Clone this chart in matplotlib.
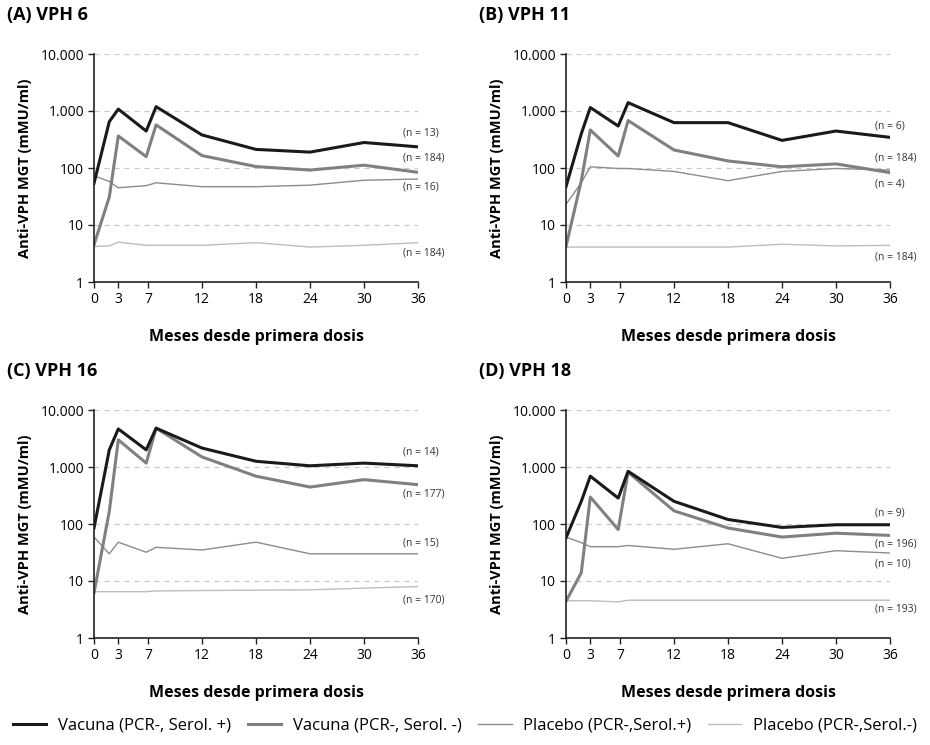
import matplotlib
matplotlib.use("Agg")
import matplotlib.pyplot as plt
from matplotlib.ticker import FixedLocator, NullLocator

plt.rcParams['font.family'] = ['Open Sans', 'DejaVu Sans']

# visit positions as drawn on the chart (months)
visits = [0, 1.7, 2.7, 5.8, 6.9, 12, 18, 24, 30, 36]
tick_pos = [0, 2.7, 6, 12, 18, 24, 30, 36]
tick_lab = ['0', '3', '7', '12', '18', '24', '30', '36']

titles = ['(A) VPH 6', '(B) VPH 11', '(C) VPH 16', '(D) VPH 18']

vac_pos = [
    [54, 650, 1080, 445, 1190, 380, 212, 190, 280, 235],
    [47, 400, 1150, 545, 1400, 625, 625, 305, 445, 345],
    [85, 2000, 4650, 2000, 4800, 2150, 1260, 1050, 1170, 1050],
    [57, 250, 690, 285, 840, 250, 120, 87, 97, 97],
]
vac_neg = [
    [4.5, 31, 365, 158, 570, 165, 106, 92, 112, 84],
    [4.2, 60, 465, 162, 680, 207, 133, 105, 118, 83],
    [6.2, 167, 3000, 1170, 4800, 1500, 690, 445, 600, 490],
    [4.4, 14, 297, 80, 810, 170, 85, 59, 69, 63],
]
pla_pos = [
    [73, 58, 45, 49, 55, 47, 47, 50, 61, 64],
    [23, 55, 105, 98, 98, 87, 60, 87, 98, 92],
    [59, 30, 48, 32, 39, 35, 48, 30, 30, 30],
    [59, 47, 40, 40, 42, 36, 45, 25, 34, 31],
]
pla_neg = [
    [4.2, 4.3, 5.0, 4.4, 4.4, 4.4, 4.9, 4.1, 4.4, 4.9],
    [4.1, 4.1, 4.1, 4.1, 4.1, 4.1, 4.1, 4.6, 4.3, 4.4],
    [6.5, 6.5, 6.5, 6.5, 6.7, 6.8, 6.9, 7.0, 7.5, 8.0],
    [4.5, 4.5, 4.5, 4.3, 4.6, 4.6, 4.6, 4.6, 4.6, 4.6],
]
n_labels = [
    ['(n = 13)', '(n = 184)', '(n = 16)', '(n = 184)'],
    ['(n = 6)', '(n = 184)', '(n = 4)', '(n = 184)'],
    ['(n = 14)', '(n = 177)', '(n = 15)', '(n = 170)'],
    ['(n = 9)', '(n = 196)', '(n = 10)', '(n = 193)'],
]
n_y = [
    [405, 148, 46, 3.2],
    [550, 148, 52, 2.8],
    [1800, 335, 46, 4.7],
    [156, 45, 20, 3.2],
]

legend_names = ['Vacuna (PCR-, Serol. +)', 'Vacuna (PCR-, Serol. -)',
                'Placebo (PCR-,Serol.+)', 'Placebo (PCR-,Serol.-)']

fig = plt.figure(figsize=(9.3, 7.45), dpi=100)

lefts = [94 / 930, 566 / 930, 94 / 930, 566 / 930]
bottoms = [1 - 282 / 745, 1 - 282 / 745, 1 - 638 / 745, 1 - 638 / 745]
w = 324 / 930
h = 228 / 745

handles = []
for i in range(4):
    ax = fig.add_axes([lefts[i], bottoms[i], w, h])
    for y in [10, 100, 1000, 10000]:
        ax.axhline(y, color='#c8c8c8', lw=0.9, ls=(0, (4, 4)), zorder=0)
    l4, = ax.plot(visits, pla_neg[i], color='#bdbdbd', lw=1.0)
    l3, = ax.plot(visits, pla_pos[i], color='#8c8c8c', lw=1.0)
    l2, = ax.plot(visits, vac_neg[i], color='#808080', lw=2.2)
    l1, = ax.plot(visits, vac_pos[i], color='#1a1a1a', lw=2.2)
    handles = [l1, l2, l3, l4]
    ax.set_yscale('log')
    ax.set_ylim(1, 10000)
    ax.set_xlim(0, 36)
    ax.yaxis.set_major_locator(FixedLocator([1, 10, 100, 1000, 10000]))
    ax.yaxis.set_minor_locator(NullLocator())
    ax.set_yticklabels(['1', '10', '100', '1.000', '10.000'])
    ax.set_xticks(tick_pos)
    ax.set_xticklabels(tick_lab)
    ax.tick_params(labelsize=10, length=4, width=1, color='#222222', pad=3)
    for s in ['top', 'right']:
        ax.spines[s].set_visible(False)
    for s in ['left', 'bottom']:
        ax.spines[s].set_linewidth(1.2)
        ax.spines[s].set_color('#222222')
    ax.set_ylabel('Anti-VPH MGT (mMU/ml)', fontsize=10.5, fontweight='bold', labelpad=6)
    ax.set_xlabel('Meses desde primera dosis', fontsize=11.5, fontweight='bold', labelpad=16)
    for lab, yv in zip(n_labels[i], n_y[i]):
        ax.text(34.3, yv, lab, fontsize=7.5, color='#333333', va='center', ha='left')
    ax.text(-0.27, 1.17, titles[i], transform=ax.transAxes,
            fontsize=13, fontweight='bold', ha='left', va='center')

fig.legend(handles, legend_names, loc='lower center', bbox_to_anchor=(0.5, -0.005),
           ncol=4, frameon=False, fontsize=12, handlelength=2.0, columnspacing=1.0,
           handletextpad=0.7)

fig.savefig('out.png', dpi=100)
